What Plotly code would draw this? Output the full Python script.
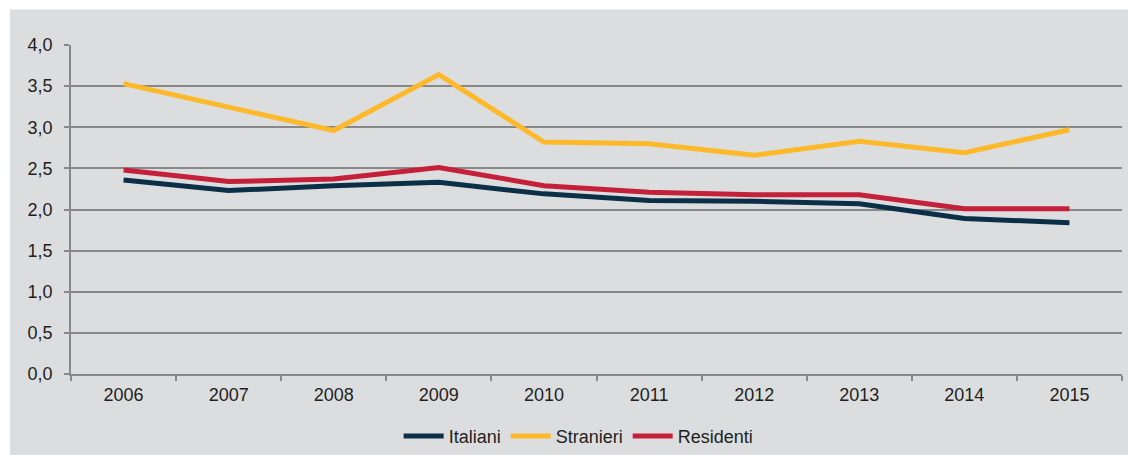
import plotly.graph_objects as go

# Anni e valori per gruppo
anni = ["2006", "2007", "2008", "2009", "2010", "2011", "2012", "2013", "2014", "2015"]
italiani = [2.36, 2.23, 2.29, 2.33, 2.19, 2.11, 2.10, 2.07, 1.89, 1.84]
stranieri = [3.53, 3.24, 2.96, 3.64, 2.82, 2.80, 2.66, 2.83, 2.69, 2.97]
residenti = [2.48, 2.34, 2.37, 2.51, 2.29, 2.21, 2.18, 2.18, 2.01, 2.01]
y_ticks = [0, 0.5, 1.0, 1.5, 2.0, 2.5, 3.0, 3.5, 4.0]
y_labels = ["0,0", "0,5", "1,0", "1,5", "2,0", "2,5", "3,0", "3,5", "4,0"]

serie = [
    ("Italiani", italiani, "#0C2F48"),
    ("Stranieri", stranieri, "#FDB92A"),
    ("Residenti", residenti, "#C4203A"),
]

BG = "#DCDDDF"
GRID = "#888888"
FONT = "Liberation Sans, Arial, sans-serif"

fig = go.Figure()
for nome, valori, colore in serie:
    fig.add_trace(go.Scatter(
        x=anni, y=valori, name=nome, mode="lines",
        line=dict(color=colore, width=5),
    ))

# White border strips along the top and left of the gray panel
fig.add_shape(
    type="rect", xref="paper", yref="paper",
    x0=-0.2, x1=1.2, y0=1.108, y1=1.3,
    fillcolor="white", line_width=0, layer="below",
)
fig.add_shape(
    type="rect", xref="paper", yref="paper",
    x0=-0.2, x1=-0.058, y0=-0.4, y1=1.3,
    fillcolor="white", line_width=0, layer="below",
)

fig.update_layout(
    width=1128, height=455,
    margin=dict(l=71, r=6, t=45, b=81, autoexpand=False),
    paper_bgcolor=BG,
    plot_bgcolor=BG,
    font=dict(family=FONT, size=18, color="#231F20"),
    showlegend=True,
    legend=dict(
        orientation="h", x=0.483, xanchor="center", y=-0.189, yanchor="middle",
        bgcolor="rgba(0,0,0,0)", font=dict(size=18), itemwidth=40,
        tracegroupgap=0,
    ),
    xaxis=dict(
        type="category", range=[-0.5, 9.5],
        tickson="boundaries", ticks="outside", ticklen=5,
        tickcolor=GRID, tickwidth=1.5, ticklabelstandoff=4,
        showline=True, linecolor=GRID, linewidth=1.5,
        showgrid=False, zeroline=False, fixedrange=True,
    ),
    yaxis=dict(
        range=[0, 4], tickvals=y_ticks, ticktext=y_labels,
        ticks="outside", ticklen=5, tickcolor=GRID, tickwidth=1.5,
        ticklabelstandoff=8,
        showline=True, linecolor=GRID, linewidth=1.5,
        showgrid=True, gridcolor=GRID, gridwidth=1.5,
        zeroline=False, fixedrange=True,
    ),
)

fig.write_html(
    "out.html",
    post_script="document.documentElement.style.overflow='hidden';"
                "document.body.style.overflow='hidden';"
                "document.body.style.margin='0';",
)
